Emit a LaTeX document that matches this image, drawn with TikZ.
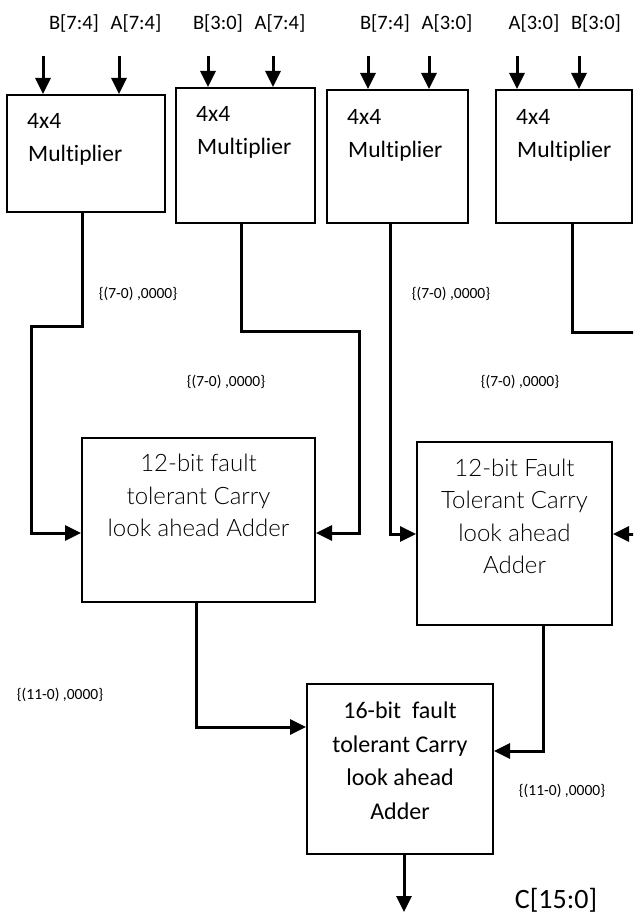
\documentclass[tikz,border=0pt]{standalone}
\usepackage{fontspec}
\setmainfont{Carlito}[Ligatures=NoCommon]
\IfFontExistsTF{Lato Light}{\newfontfamily\thinfont{Lato Light}}{\newfontfamily\thinfont{Carlito}}
\usetikzlibrary{arrows.meta}

\tikzset{
  block/.style={draw, line width=2pt, inner sep=0pt},
  wire/.style={line width=3pt},
  feed/.style={wire, -{Triangle[length=16pt,width=15pt]}},
  inlabel/.style={font=\fontsize{20.5}{24}\selectfont, inner sep=0pt},
  multtext/.style={font=\fontsize{23.5}{28}\selectfont, anchor=base west, inner sep=0pt},
  thintext/.style={font=\thinfont\fontsize{24}{28}\selectfont, anchor=base, inner sep=0pt},
  addtext/.style={font=\fontsize{24}{28}\selectfont, anchor=base, inner sep=0pt},
  buslabel/.style={font=\fontsize{15.5}{18}\selectfont, inner sep=0pt},
  outlabel/.style={font=\fontsize{28}{32}\selectfont, anchor=base, inner sep=0pt},
}

\begin{document}
\begin{tikzpicture}[x=1pt,y=-1pt]
\useasboundingbox (0,0) rectangle (633,917);
\clip (0,0) rectangle (633,917);

% 4x4 multiplier blocks
\node[block, minimum width=158pt, minimum height=117pt] (m1) at (86,153.5) {};
\node[block, minimum width=139pt, minimum height=135pt] (m2) at (245.5,155.5) {};
\node[block, minimum width=141pt, minimum height=133pt] (m3) at (397.5,156.5) {};
\node[block, minimum width=136pt, minimum height=133pt] (m4) at (564,156.5) {};

\node[multtext] (m1a) at (27,129) {4x4};
\node[multtext] (m1b) at (28,162) {Multiplier};
\node[multtext] (m2a) at (196,122) {4x4};
\node[multtext] (m2b) at (197,155) {Multiplier};
\node[multtext] (m3a) at (347,125) {4x4};
\node[multtext] (m3b) at (348,158) {Multiplier};
\node[multtext] (m4a) at (516,125) {4x4};
\node[multtext] (m4b) at (517,158) {Multiplier};

% operand inputs
\node[inlabel] (l1) at (74,23) {B[7:4]};
\node[inlabel] (l2) at (136,23) {A[7:4]};
\node[inlabel] (l3) at (218,23) {B[3:0]};
\node[inlabel] (l4) at (280,23) {A[7:4]};
\node[inlabel] (l5) at (385,23) {B[7:4]};
\node[inlabel] (l6) at (447,23) {A[3:0]};
\node[inlabel] (l7) at (534,23) {A[3:0]};
\node[inlabel] (l8) at (596,23) {B[3:0]};

\coordinate (i1) at (43,56);
\coordinate (i2) at (119,56);
\coordinate (i3) at (208,56);
\coordinate (i4) at (273,56);
\coordinate (i5) at (368,56);
\coordinate (i6) at (429,56);
\coordinate (i7) at (517,56);
\coordinate (i8) at (579,56);
\draw[feed] (i1) -- (m1.north -| i1);
\draw[feed] (i2) -- (m1.north -| i2);
\draw[feed] (i3) -- (m2.north -| i3);
\draw[feed] (i4) -- (m2.north -| i4);
\draw[feed] (i5) -- (m3.north -| i5);
\draw[feed] (i6) -- (m3.north -| i6);
\draw[feed] (i7) -- (m4.north -| i7);
\draw[feed] (i8) -- (m4.north -| i8);

% carry look-ahead adders
\node[block, minimum width=233pt, minimum height=164pt] (a1) at (198.5,520) {};
\node[block, minimum width=195pt, minimum height=183pt] (a2) at (514.5,533.5) {};
\node[block, minimum width=186pt, minimum height=170pt] (a3) at (400,769) {};

\node[thintext] (a1t1) at (198.5,471) {12-bit fault};
\node[thintext] (a1t2) at (198.5,504) {tolerant Carry};
\node[thintext] (a1t3) at (198.5,536) {look ahead Adder};

\node[thintext] (a2t1) at (514.5,476) {12-bit Fault};
\node[thintext] (a2t2) at (514.5,508) {Tolerant Carry};
\node[thintext] (a2t3) at (514.5,541) {look ahead};
\node[thintext] (a2t4) at (514.5,573) {Adder};

\node[addtext] (a3t1) at (400,718) {16-bit\ \ fault};
\node[addtext] (a3t2) at (400,752) {tolerant Carry};
\node[addtext] (a3t3) at (400,785) {look ahead};
\node[addtext] (a3t4) at (400,819) {Adder};

% partial product buses
\coordinate (k1) at (82,326);
\coordinate (k2) at (31,533);
\draw[feed] (m1.south -| k1) -- (k1) -| (k2) -- (a1.west |- k2);

\coordinate (k3) at (241,331);
\coordinate (k4) at (359,533);
\draw[feed] (m2.south -| k3) -- (k3) -| (k4) -- (a1.east |- k4);

\coordinate (k5) at (390,534);
\draw[feed] (m3.south -| k5) -- (k5) -- (a2.west |- k5);

\coordinate (k6) at (572,332);
\coordinate (k7) at (645,332);
\draw[wire] (m4.south -| k6) -- (k6) -- (k7);

\coordinate (k8) at (645,534);
\draw[feed] (k8) -- (a2.east |- k8);

\coordinate (k9) at (196,727);
\draw[feed] (a1.south -| k9) -- (k9) -- (a3.west |- k9);

\coordinate (k10) at (543,751);
\draw[feed] (a2.south -| k10) -- (k10) -- (a3.east |- k10);

\coordinate (k11) at (404,912);
\draw[feed] (a3.south -| k11) -- (k11);

% bus width annotations
\node[buslabel] (b1) at (138,294) {\{(7-0) ,0000\}};
\node[buslabel] (b2) at (226,382) {\{(7-0) ,0000\}};
\node[buslabel] (b3) at (451,294) {\{(7-0) ,0000\}};
\node[buslabel] (b4) at (520,382) {\{(7-0) ,0000\}};
\node[buslabel] (b5) at (60,695) {\{(11-0) ,0000\}};
\node[buslabel] (b6) at (562,791) {\{(11-0) ,0000\}};

\node[outlabel] (out) at (556,908) {C[15:0]};
\end{tikzpicture}
\end{document}
